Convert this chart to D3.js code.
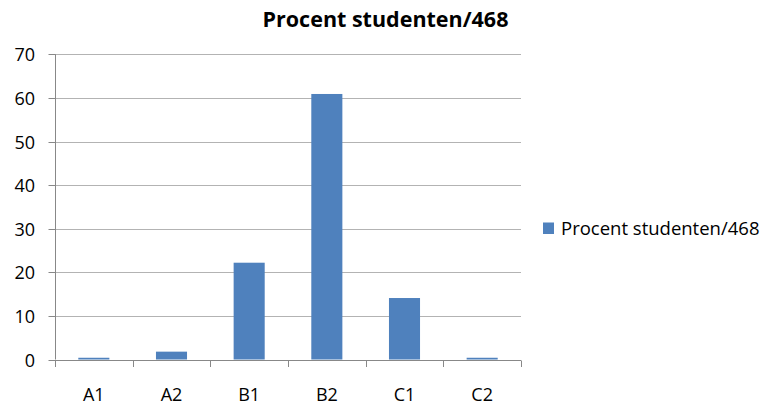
<!DOCTYPE html>
<html><head><meta charset="utf-8">
<script src="https://cdn.jsdelivr.net/npm/d3@7/dist/d3.min.js"></script>
<style>body{margin:0;background:#fff}svg{display:block}text{font-family:"Open Sans",sans-serif;fill:#000}</style>
</head><body>
<svg id="c" width="763" height="403"></svg>
<script>
const categories = ["A1","A2","B1","B2","C1","C2"];
const values = [0.4, 1.8, 22.2, 60.9, 14.1, 0.4];
const yTicks = [0,10,20,30,40,50,60,70];
const seriesName = "Procent studenten/468";

(function(){
const svg = d3.select("#c");
const pL = 55, pR = 521, pT = 54.3, pB = 359.5;
const x = d3.scaleBand().domain(categories).range([pL, pR]).padding(0);
const y = d3.scaleLinear().domain([0,70]).range([pB, pT]);

// gridlines
svg.append("g").selectAll("line").data(yTicks.filter(d=>d>0)).join("line")
  .attr("x1", pL).attr("x2", pR)
  .attr("y1", d=>Math.round(y(d))+0.5).attr("y2", d=>Math.round(y(d))+0.5)
  .attr("stroke", "#b3b3b3").attr("stroke-width", 1);

// y axis
const yAxis = d3.axisLeft(y).tickValues(yTicks).tickSize(7).tickPadding(13.5).tickFormat(d3.format("d"));
const gy = svg.append("g").attr("transform", `translate(${pL+0.5},0)`).call(yAxis);
gy.select(".domain").attr("stroke", "#888").attr("d", `M0,${pT}V${pB}`);
gy.selectAll(".tick line").attr("stroke", "#888");
gy.selectAll(".tick text").style("font-size", "18px").attr("fill", "#000").attr("dy", "0.36em");
gy.selectAll(".tick").attr("transform", d=>`translate(0,${Math.round(y(d))+0.5})`);

// bars
const bw = x.bandwidth()*0.4;
svg.append("g").selectAll("rect").data(categories).join("rect")
  .attr("x", (d)=>x(d)+x.bandwidth()/2-bw/2)
  .attr("width", bw)
  .attr("y", (d,i)=>y(values[i]))
  .attr("height", (d,i)=>pB-y(values[i]))
  .attr("fill", "#4f81bd");

// x axis
const xAxis = d3.axisBottom(x).tickSize(0).tickPadding(0);
const gx = svg.append("g").attr("transform", `translate(0,${Math.round(pB)+0.5})`).call(xAxis);
gx.select(".domain").attr("stroke", "#888").attr("d", `M${pL},0H${pR}`);
gx.selectAll(".tick text").style("font-size", "18px").attr("fill", "#000").attr("dy", null).attr("y", 40);
const bounds = categories.map(c=>x(c)).concat([pR]);
gx.append("g").selectAll("line").data(bounds).join("line")
  .attr("x1", d=>Math.round(d)+0.5).attr("x2", d=>Math.round(d)+0.5)
  .attr("y1", 0).attr("y2", 6.5).attr("stroke", "#888");

// title
svg.append("text").attr("x", 385.5).attr("y", 27.3).attr("text-anchor", "middle")
  .style("font-size", "21.5px").style("font-weight", "bold").text(seriesName);

// legend
const lg = svg.append("g");
lg.append("rect").attr("x", 543).attr("y", 222.5).attr("width", 11).attr("height", 11.5).attr("fill", "#4f81bd");
lg.append("text").attr("x", 561).attr("y", 235).style("font-size", "18.5px").text(seriesName);
})();
</script>
</body></html>
